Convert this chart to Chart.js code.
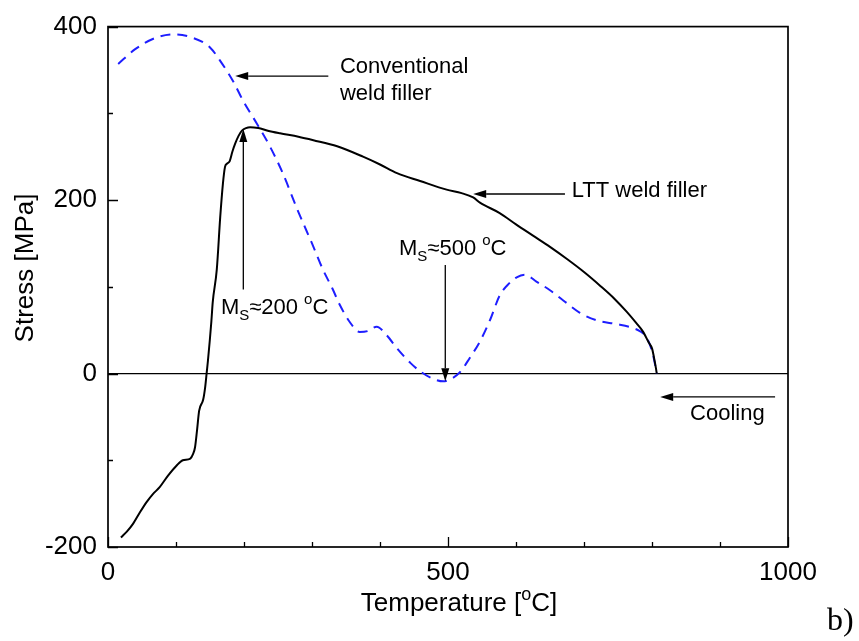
<!DOCTYPE html>
<html>
<head>
<meta charset="utf-8">
<script src="https://cdn.jsdelivr.net/npm/chart.js@4.4.0/dist/chart.umd.min.js"></script>
<style>html,body{margin:0;padding:0;background:#fff}</style>
</head>
<body>
<canvas id="grafico" width="859" height="641"></canvas>
<script>
// LTT weld filler (black solid)
const lttTemp = [19, 28, 37, 47, 57, 66, 76, 88, 101, 110, 121, 125, 128, 131, 134, 140, 143, 145, 147, 152, 154, 160, 165, 169, 172, 175, 179, 183, 187, 192, 197, 203, 209, 221, 235, 253, 280, 302, 337, 375, 400, 425, 459, 498, 520, 537, 547, 576, 600, 625, 650, 675, 700, 724, 745, 763, 777, 787, 795, 800, 804, 806, 807];
const lttStress = [-189, -182, -173, -160, -148, -139, -131, -118, -106, -100, -98, -93, -85, -65, -43, -30, -15, 0, 15, 60, 82, 120, 180, 219, 238, 242, 245, 256, 265, 274, 280, 283, 284, 283, 280, 277, 273, 269, 262, 250, 241, 231, 222, 212, 208, 203, 197, 185, 172, 159, 146, 132, 117, 101, 86, 71, 58, 48, 36, 29, 14, 5, 0];

// Conventional weld filler (blue dashed)
const convTemp = [15, 40, 70, 98, 125, 150, 168, 184, 199, 219, 238, 257, 278, 300, 316, 330, 341, 355, 370, 382, 395, 410, 425, 445, 460, 478, 493, 505, 518, 532, 547, 562, 576, 590, 601, 613, 630, 650, 670, 694, 720, 748, 770, 782, 790, 797, 802, 807];
const convStress = [357, 374, 387, 391, 387, 376, 357, 337, 314, 288, 262, 231, 190, 150, 120, 98, 79, 60, 48, 49, 54, 44, 29, 12, 2, -6, -9, -6, 2, 18, 37, 62, 90, 104, 111, 114, 106, 96, 84, 70, 61, 57, 53, 49, 44, 33, 20, 0];

const xLabels = [0, 500, 1000];
const yLabels = [-200, 0, 200, 400];

const FONT = '"Liberation Sans", Arial, sans-serif';

// annotations in data units
const arrows = [
  { from: [324, 343], to: [187, 343] },
  { from: [672, 207], to: [537, 207] },
  { from: [199, 97], to: [199, 282] },
  { from: [496, 125], to: [496, -9] },
  { from: [981, -27], to: [812, -27] }
];
const notes = [
  { at: [341, 347], runs: [{ t: 'Conventional' }] },
  { at: [341, 315], runs: [{ t: 'weld filler' }] },
  { at: [682, 203], runs: [{ t: 'LTT weld filler' }] },
  { at: [166, 69], runs: [{ t: 'M' }, { t: 'S', sub: true }, { t: '≈200 ' }, { t: 'o', sup: true }, { t: 'C' }] },
  { at: [428, 137], runs: [{ t: 'M' }, { t: 'S', sub: true }, { t: '≈500 ' }, { t: 'o', sup: true }, { t: 'C' }] },
  { at: [856, -53], runs: [{ t: 'Cooling' }] }
];

function drawRuns(ctx, runs, x, y, size) {
  runs.forEach(r => {
    const s = (r.sub || r.sup) ? Math.round(size * 0.68) : size;
    ctx.font = s + 'px ' + FONT;
    const dy = r.sub ? size * 0.28 : (r.sup ? -size * 0.42 : 0);
    ctx.fillText(r.t, x, y + dy);
    x += ctx.measureText(r.t).width;
  });
}
function runsWidth(ctx, runs, size) {
  let w = 0;
  runs.forEach(r => {
    const s = (r.sub || r.sup) ? Math.round(size * 0.68) : size;
    ctx.font = s + 'px ' + FONT;
    w += ctx.measureText(r.t).width;
  });
  return w;
}

const extras = {
  id: 'extras',
  afterDraw(chart) {
    const { ctx, chartArea: a, scales: { x, y } } = chart;
    ctx.save();
    ctx.strokeStyle = '#000';
    ctx.fillStyle = '#000';

    // inward tick marks
    ctx.lineWidth = 1.3;
    ctx.beginPath();
    x.ticks.forEach(t => {
      const px = Math.round(x.getPixelForValue(t.value)) + 0.5;
      const len = xLabels.includes(t.value) ? 10 : 5;
      ctx.moveTo(px, a.bottom); ctx.lineTo(px, a.bottom - len);
    });
    y.ticks.forEach(t => {
      const py = Math.round(y.getPixelForValue(t.value)) + 0.5;
      const len = yLabels.includes(t.value) ? 10 : 5;
      ctx.moveTo(a.left, py); ctx.lineTo(a.left + len, py);
    });
    ctx.stroke();

    // frame
    ctx.lineWidth = 1.7;
    ctx.strokeRect(a.left, a.top, a.right - a.left, a.bottom - a.top);

    // arrows
    ctx.lineWidth = 1.3;
    arrows.forEach(ar => {
      const x1 = x.getPixelForValue(ar.from[0]), y1 = y.getPixelForValue(ar.from[1]);
      const x2 = x.getPixelForValue(ar.to[0]), y2 = y.getPixelForValue(ar.to[1]);
      const ang = Math.atan2(y2 - y1, x2 - x1);
      const hl = 13, hw = 4;
      ctx.beginPath();
      ctx.moveTo(x1, y1);
      ctx.lineTo(x2 - hl * Math.cos(ang), y2 - hl * Math.sin(ang));
      ctx.stroke();
      ctx.beginPath();
      ctx.moveTo(x2, y2);
      ctx.lineTo(x2 - hl * Math.cos(ang) + hw * Math.sin(ang), y2 - hl * Math.sin(ang) - hw * Math.cos(ang));
      ctx.lineTo(x2 - hl * Math.cos(ang) - hw * Math.sin(ang), y2 - hl * Math.sin(ang) + hw * Math.cos(ang));
      ctx.closePath();
      ctx.fill();
    });

    // annotation texts
    ctx.textBaseline = 'alphabetic';
    ctx.textAlign = 'left';
    notes.forEach(n => {
      drawRuns(ctx, n.runs, x.getPixelForValue(n.at[0]), y.getPixelForValue(n.at[1]), 22);
    });

    // axis titles
    const xTitle = [{ t: 'Temperature [' }, { t: 'o', sup: true }, { t: 'C]' }];
    const w = runsWidth(ctx, xTitle, 26);
    drawRuns(ctx, xTitle, 459 - w / 2, 611, 26);

    ctx.save();
    ctx.translate(33, 268);
    ctx.rotate(-Math.PI / 2);
    ctx.textAlign = 'center';
    ctx.font = '26px ' + FONT;
    ctx.fillText('Stress [MPa]', 0, 0);
    ctx.restore();

    // panel label
    ctx.font = '32px "Liberation Serif", "Times New Roman", serif';
    ctx.fillText('b)', 827, 630);
    ctx.restore();
  }
};

const ctx = document.getElementById('grafico').getContext('2d');
new Chart(ctx, {
  type: 'line',
  data: {
    datasets: [
      {
        label: 'LTT weld filler',
        data: lttTemp.map((t, i) => ({ x: t, y: lttStress[i] })),
        borderColor: '#000',
        borderWidth: 2,
        pointRadius: 0,
        cubicInterpolationMode: 'monotone',
        fill: false
      },
      {
        label: 'Conventional weld filler',
        data: convTemp.map((t, i) => ({ x: t, y: convStress[i] })),
        borderColor: 'rgb(30,30,255)',
        borderWidth: 2,
        borderDash: [10, 7],
        pointRadius: 0,
        cubicInterpolationMode: 'monotone',
        fill: false
      }
    ]
  },
  options: {
    responsive: false,
    animation: false,
    layout: { padding: { left: 0, top: 22, right: 71, bottom: 0 } },
    plugins: { legend: { display: false }, tooltip: { enabled: false } },
    scales: {
      x: {
        type: 'linear',
        min: 0, max: 1000,
        afterFit: s => { s.height = 94; },
        grid: { display: false, drawTicks: false },
        border: { display: false },
        ticks: {
          stepSize: 100,
          autoSkip: false,
          maxRotation: 0,
          padding: 10,
          color: '#000',
          font: { size: 26, family: FONT },
          callback: v => xLabels.includes(v) ? String(v) : ''
        }
      },
      y: {
        min: -200, max: 400,
        afterFit: s => { s.width = 108; },
        grid: {
          drawTicks: false,
          lineWidth: 1.3,
          color: c => (c.tick && c.tick.value === 0) ? '#000' : 'rgba(0,0,0,0)'
        },
        border: { display: false },
        ticks: {
          stepSize: 100,
          autoSkip: false,
          padding: 11,
          color: '#000',
          font: { size: 26, family: FONT },
          callback: v => yLabels.includes(v) ? String(v) : ''
        }
      }
    }
  },
  plugins: [extras]
});
</script>
</body>
</html>
